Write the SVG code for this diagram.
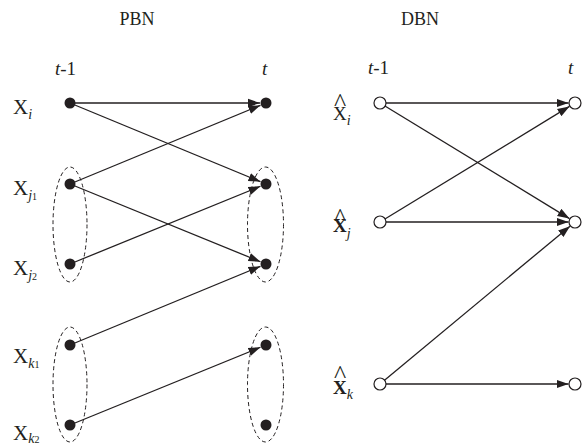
<svg xmlns="http://www.w3.org/2000/svg" width="588" height="445" viewBox="0 0 588 445">
<style>
text{font-family:"Liberation Serif","Times New Roman",serif;fill:#231f20}
.h{font-size:18px;text-anchor:middle}
.tl{font-size:19px}
.lx{font-size:21px}
.dx{font-size:19px}
.sub{font-size:14px;font-style:italic;font-weight:normal}
.sn{font-size:10px}
.it{font-style:italic}
.hat{font-size:26px;font-weight:normal}
.e{stroke:#231f20;stroke-width:1.3;fill:none}
.grp{stroke:#231f20;stroke-width:1;fill:none;stroke-dasharray:4 3}
.dot{fill:#231f20}
.oc{fill:#fff;stroke:#231f20;stroke-width:1.2}
</style>
<defs>
<marker id="ah" markerUnits="userSpaceOnUse" markerWidth="14" markerHeight="10" refX="12" refY="5" orient="auto">
<path d="M0,0.8 L12,5 L0,9.2 Z" fill="#231f20"/>
</marker>
</defs>
<rect width="588" height="445" fill="#fff"/>
<text class="h" x="137" y="25">PBN</text>
<text class="h" x="420" y="25">DBN</text>
<text class="tl" x="55" y="75"><tspan class="it">t</tspan>-1</text>
<text class="tl" x="262" y="75" font-style="italic">t</text>
<text class="tl" x="368" y="74"><tspan class="it">t</tspan>-1</text>
<text class="tl" x="568" y="74" font-style="italic">t</text>
<g id="connectors">
<line class="e" x1="70" y1="103" x2="260" y2="103" marker-end="url(#ah)"/>
<line class="e" x1="70" y1="103" x2="260.46" y2="181.7" marker-end="url(#ah)"/>
<line class="e" x1="70" y1="184" x2="260.46" y2="105.29" marker-end="url(#ah)"/>
<line class="e" x1="70" y1="184" x2="260.45" y2="261.73" marker-end="url(#ah)"/>
<line class="e" x1="70" y1="264" x2="260.45" y2="186.27" marker-end="url(#ah)"/>
<line class="e" x1="70" y1="345" x2="260.46" y2="266.29" marker-end="url(#ah)"/>
<line class="e" x1="70" y1="425" x2="260.45" y2="347.27" marker-end="url(#ah)"/>
<line class="e" x1="380" y1="103" x2="568.5" y2="103" marker-end="url(#ah)"/>
<line class="e" x1="380" y1="103" x2="569.45" y2="218.61" marker-end="url(#ah)"/>
<line class="e" x1="380" y1="222" x2="569.45" y2="106.39" marker-end="url(#ah)"/>
<line class="e" x1="380" y1="222" x2="568.5" y2="222" marker-end="url(#ah)"/>
<line class="e" x1="380" y1="384" x2="570" y2="226.15" marker-end="url(#ah)"/>
<line class="e" x1="380" y1="384" x2="568.5" y2="384" marker-end="url(#ah)"/>
</g>
<g id="groups">
<ellipse class="grp" cx="70" cy="224.5" rx="17" ry="57.5"/>
<ellipse class="grp" cx="265.5" cy="224.5" rx="18" ry="57.5"/>
<ellipse class="grp" cx="70" cy="384.5" rx="17" ry="57.5"/>
<ellipse class="grp" cx="265.5" cy="384.5" rx="18" ry="57.5"/>
</g>
<g id="pbn-xi-prev"><circle class="dot" cx="70" cy="103" r="5.5"/><text class="lx" x="13" y="114">X<tspan class="sub" dy="5">i</tspan></text></g>
<g id="pbn-xi-cur"><circle class="dot" cx="266" cy="103" r="5.5"/></g>
<g id="pbn-xj1-prev"><circle class="dot" cx="70" cy="184" r="5.5"/><text class="lx" x="13" y="195">X<tspan class="sub" dy="5">j</tspan><tspan class="sn">1</tspan></text></g>
<g id="pbn-xj1-cur"><circle class="dot" cx="266" cy="184" r="5.5"/></g>
<g id="pbn-xj2-prev"><circle class="dot" cx="70" cy="264" r="5.5"/><text class="lx" x="13" y="275">X<tspan class="sub" dy="5">j</tspan><tspan class="sn">2</tspan></text></g>
<g id="pbn-xj2-cur"><circle class="dot" cx="266" cy="264" r="5.5"/></g>
<g id="pbn-xk1-prev"><circle class="dot" cx="70" cy="345" r="5.5"/><text class="lx" x="13" y="363">X<tspan class="sub" dy="5">k</tspan><tspan class="sn">1</tspan></text></g>
<g id="pbn-xk1-cur"><circle class="dot" cx="266" cy="345" r="5.5"/></g>
<g id="pbn-xk2-prev"><circle class="dot" cx="70" cy="425" r="5.5"/><text class="lx" x="13" y="440">X<tspan class="sub" dy="3">k</tspan><tspan class="sn">2</tspan></text></g>
<g id="pbn-xk2-cur"><circle class="dot" cx="266" cy="425" r="5.5"/></g>
<g id="dbn-xi-prev"><circle class="oc" cx="380" cy="103" r="6"/><text x="334" y="110.7"><tspan class="hat">^</tspan><tspan class="dx" x="333" y="120">X</tspan><tspan class="sub" dy="5">i</tspan></text></g>
<g id="dbn-xi-cur"><circle class="oc" cx="575" cy="103" r="6"/></g>
<g id="dbn-xj-prev"><circle class="oc" cx="380" cy="222" r="6"/><text x="334" y="225.7"><tspan class="hat">^</tspan><tspan class="dx" x="333" y="232" font-weight="bold">X</tspan><tspan class="sub" dy="6">j</tspan></text></g>
<g id="dbn-xj-cur"><circle class="oc" cx="575" cy="222" r="6"/></g>
<g id="dbn-xk-prev"><circle class="oc" cx="380" cy="384" r="6"/><text x="334" y="382.7"><tspan class="hat">^</tspan><tspan class="dx" x="333" y="394" font-weight="bold">X</tspan><tspan class="sub" dy="5">k</tspan></text></g>
<g id="dbn-xk-cur"><circle class="oc" cx="575" cy="384" r="6"/></g>
</svg>
